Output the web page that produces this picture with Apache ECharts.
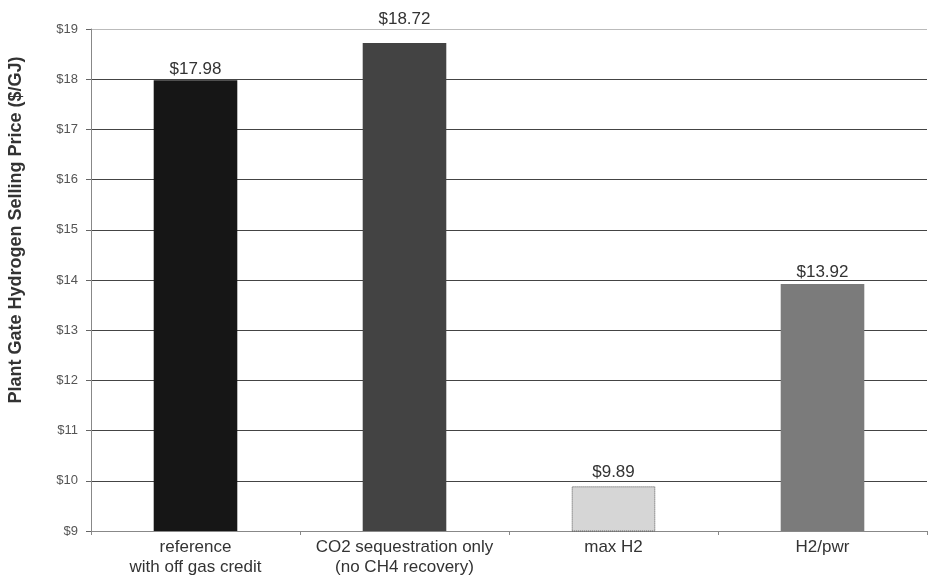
<!DOCTYPE html>
<html>
<head>
<meta charset="utf-8">
<script src="https://cdn.jsdelivr.net/npm/echarts@6/dist/echarts.min.js"></script>
<style>
html,body{margin:0;padding:0;background:#fff;}
#chart{width:931px;height:581px;}
</style>
</head>
<body>
<div id="chart"></div>
<script>
const categories = ['reference\nwith off gas credit', 'CO2 sequestration only\n(no CH4 recovery)', 'max H2', 'H2/pwr'];
const prices = [17.98, 18.72, 9.89, 13.92];
const priceLabels = ['$17.98', '$18.72', '$9.89', '$13.92'];
const yTitle = 'Plant Gate Hydrogen Selling Price ($/GJ)';

// styles (kept separate from data)
const barColors = ['#161616', '#434343', '#d6d6d6', '#7b7b7b'];
const labelDistances = [2, 15, 6, 3];
const FONT = 'Liberation Sans, Arial, sans-serif';

const chart = echarts.init(document.getElementById('chart'), null, {renderer: 'canvas'});
const data = prices.map((v, i) => ({
  value: v,
  itemStyle: {
    color: barColors[i],
    borderColor: i === 2 ? '#555' : barColors[i],
    borderWidth: i === 2 ? 1 : 0,
    borderType: i === 2 ? 'dotted' : 'solid'
  },
  label: {distance: labelDistances[i]}
}));
chart.setOption({
  animation: false,
  backgroundColor: '#fff',
  grid: {left: 91, right: 4, top: 29, bottom: 50},
  graphic: [{
    type: 'text',
    x: 16,
    y: 230,
    rotation: Math.PI / 2,
    style: {
      text: yTitle,
      fill: '#333',
      font: 'bold 18px ' + FONT,
      textAlign: 'center',
      textVerticalAlign: 'middle'
    }
  }],
  xAxis: {
    type: 'category',
    data: categories,
    axisLine: {lineStyle: {color: '#888', width: 1}},
    axisTick: {show: true, length: 4, lineStyle: {color: '#888'}},
    axisLabel: {interval: 0, color: '#333', fontSize: 17, fontFamily: FONT, lineHeight: 20, margin: 6}
  },
  yAxis: {
    type: 'value',
    min: 9,
    max: 19,
    interval: 1,
    axisLine: {show: true, lineStyle: {color: '#888'}},
    axisTick: {show: true, length: 5, lineStyle: {color: '#666'}},
    axisLabel: {color: '#555', fontSize: 13, fontFamily: FONT, margin: 13, formatter: v => '$' + v},
    splitLine: {show: true, lineStyle: {color: ['#999', '#444', '#444', '#444', '#444', '#444', '#444', '#444', '#444', '#444', '#bbb'], width: 1}}
  },
  series: [{
    type: 'bar',
    data: data,
    barCategoryGap: '60%',
    label: {
      show: true,
      position: 'top',
      color: '#333',
      fontSize: 17,
      fontFamily: FONT,
      formatter: p => priceLabels[p.dataIndex]
    }
  }]
});
</script>
</body>
</html>
